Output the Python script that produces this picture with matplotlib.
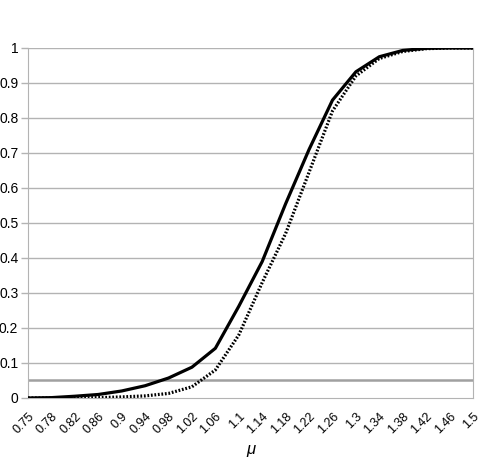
import matplotlib
matplotlib.use("Agg")
from matplotlib import pyplot as plt
import numpy as np

plt.rcParams['font.family'] = ['Liberation Sans', 'DejaVu Sans']

# mu values (category axis, labels shown as in the sheet)
mu_labels = ['0.75', '0.78', '0.82', '0.86', '0.9', '0.94', '0.98', '1.02', '1.06', '1.1',
             '1.14', '1.18', '1.22', '1.26', '1.3', '1.34', '1.38', '1.42', '1.46', '1.5']

solid = [0.0, 0.001, 0.005, 0.01, 0.02, 0.035, 0.057, 0.088, 0.142, 0.262,
         0.39, 0.555, 0.71, 0.851, 0.932, 0.975, 0.993, 0.999, 1.0, 1.0]
dotted = [0.0, 0.0, 0.0, 0.001, 0.003, 0.006, 0.013, 0.032, 0.08, 0.18,
          0.33, 0.47, 0.645, 0.82, 0.92, 0.97, 0.99, 0.998, 1.0, 1.0]
alpha_level = [0.05] * len(mu_labels)

y_ticks = [0, 0.1, 0.2, 0.3, 0.4, 0.5, 0.6, 0.7, 0.8, 0.9, 1]
y_ticklabels = ['0', '0.1', '0.2', '0.3', '0.4', '0.5', '0.6', '0.7', '0.8', '0.9', '1']

x = np.arange(len(mu_labels))

fig = plt.figure(figsize=(4.92, 4.61), dpi=100)
ax = fig.add_axes([0.0569, 0.1367, 0.9045, 0.7592])

for yv in y_ticks[1:]:
    ax.axhline(yv, color='#b3b3b3', lw=1.0, zorder=1)

# 5% level line
ax.plot(x, alpha_level, color='#a0a0a0', lw=1.8, zorder=2)
ax.plot(x, dotted, color='black', lw=2.3, linestyle=(0, (0.55, 0.55)), zorder=3)
ax.plot(x, solid, color='black', lw=2.3, solid_joinstyle='round', zorder=4)

ax.set_xlim(0, len(mu_labels) - 1)
ax.set_ylim(0, 1)

ax.set_yticks(y_ticks)
ax.set_yticklabels(y_ticklabels, fontsize=10)
ax.set_xticks(x)
ax.set_xticklabels(mu_labels, fontsize=9, rotation=45, ha='right', va='top',
                   rotation_mode='anchor')
ax.tick_params(axis='x', length=0, pad=9)
ax.tick_params(axis='y', length=5, width=1, color='#b3b3b3', pad=2)

ax.spines['top'].set_visible(False)
for side in ['left', 'bottom', 'right']:
    ax.spines[side].set_color('#b3b3b3')

ax.set_xlabel('μ', fontsize=12, style='italic', labelpad=4)

fig.savefig('out.png', dpi=100)
